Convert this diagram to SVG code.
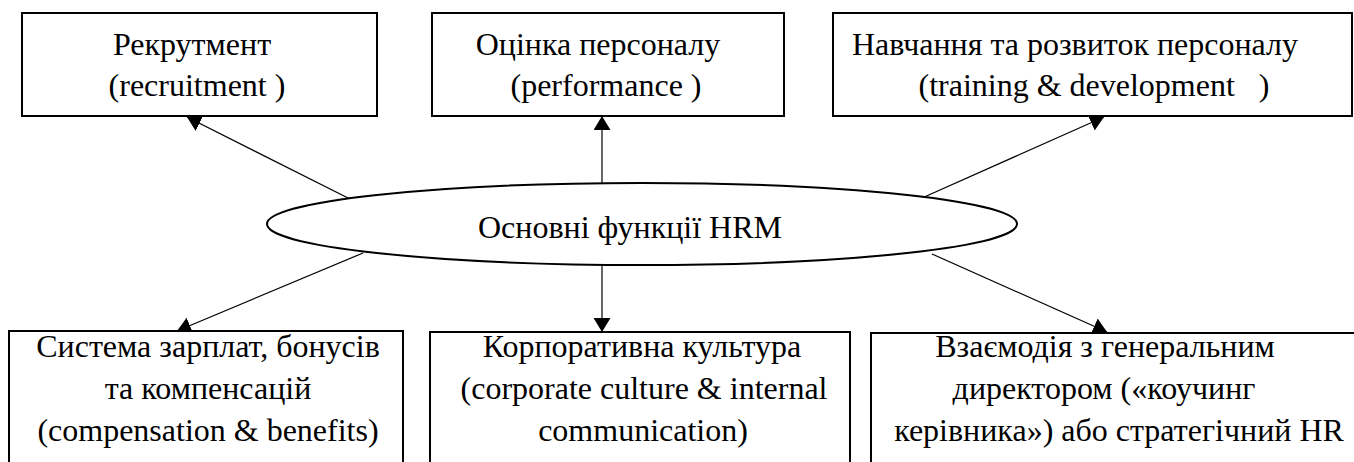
<svg xmlns="http://www.w3.org/2000/svg" width="1354" height="462" viewBox="0 0 1354 462">
<style>
.box{fill:#fff;stroke:#000;stroke-width:2}
.t{font-family:'Liberation Serif','Times New Roman',serif;font-size:32px;fill:#000;text-anchor:middle}
.c{stroke:#000;stroke-width:1.2;fill:none;marker-end:url(#ah)}
</style>
<defs>
<marker id="ah" markerUnits="userSpaceOnUse" markerWidth="16" markerHeight="18" refX="14" refY="8.5" orient="auto">
<path d="M0,0 L14,8.5 L0,17 z" fill="#000"/>
</marker>
</defs>
<rect width="1354" height="462" fill="#fff"/>
<g id="connectors">
<line class="c" x1="350" y1="199" x2="187" y2="117"/>
<line class="c" x1="602" y1="183" x2="602" y2="116"/>
<line class="c" x1="922" y1="198" x2="1104" y2="117"/>
<line class="c" x1="363" y1="253" x2="177" y2="331"/>
<line class="c" x1="602" y1="266" x2="602" y2="332"/>
<line class="c" x1="932" y1="254" x2="1107" y2="332"/>
</g>
<g id="center">
<ellipse class="box" cx="642" cy="224" rx="375" ry="41"/>
<text class="t" x="630" y="238">Основні функції HRM</text>
</g>
<g id="recruitment">
<rect class="box" x="22" y="13" width="355" height="103"/>
<text class="t" x="192" y="55">Рекрутмент</text>
<text class="t" x="197" y="96" xml:space="preserve">(recruitment )</text>
</g>
<g id="performance">
<rect class="box" x="432" y="13" width="352" height="103"/>
<text class="t" x="598" y="55">Оцінка персоналу</text>
<text class="t" x="606" y="96" xml:space="preserve">(performance )</text>
</g>
<g id="training">
<rect class="box" x="833" y="13" width="519" height="103"/>
<text class="t" x="1075" y="55">Навчання та розвиток персоналу</text>
<text class="t" x="1094" y="96" xml:space="preserve">(training &amp; development   )</text>
</g>
<g id="compensation">
<rect class="box" x="9" y="331" width="394" height="140"/>
<text class="t" x="208" y="357">Система зарплат, бонусів</text>
<text class="t" x="208" y="399">та компенсацій</text>
<text class="t" x="208" y="441">(compensation &amp; benefits)</text>
</g>
<g id="culture">
<rect class="box" x="430" y="332" width="420" height="140"/>
<text class="t" x="642" y="357">Корпоративна культура</text>
<text class="t" x="644" y="399">(corporate culture &amp; internal</text>
<text class="t" x="643" y="441">communication)</text>
</g>
<g id="strategic">
<rect class="box" x="871" y="333" width="490" height="140"/>
<text class="t" x="1105" y="357">Взаємодія з генеральним</text>
<text class="t" x="1104" y="399">директором («коучинг</text>
<text class="t" x="1119" y="441">керівника») або стратегічний HR</text>
</g>
</svg>
